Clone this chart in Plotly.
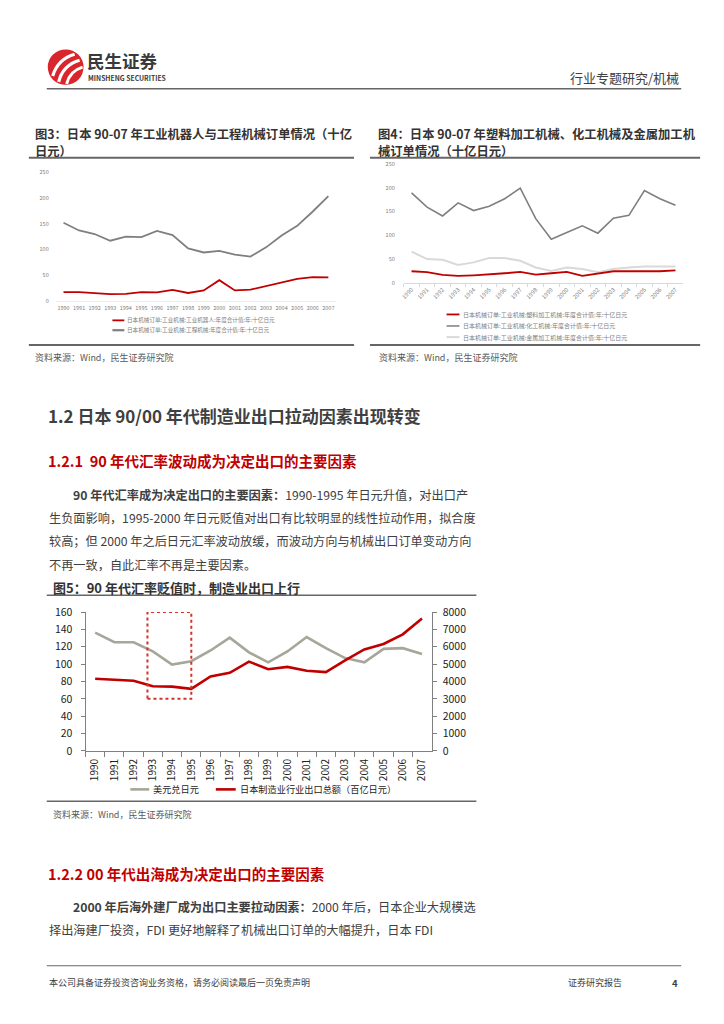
import plotly.graph_objects as go

W, H = 724, 1024
def px(x): return x / W
def py(y): return 1 - y / H

FONT = "Noto Sans CJK SC"
RED = "#c00000"
DARK = "#404040"

years = [str(y) for y in range(1990, 2008)]

# Figure 3: industrial robots / construction machinery orders (bn JPY)
robot_orders = [16.5, 16.5, 14.5, 12.7, 13.3, 16.5, 16, 21, 15, 20, 40, 20, 21.5, 28.5, 35, 42.5, 46, 45.5]
construction_orders = [152, 137, 130, 117, 125, 124, 136, 128, 102, 94, 97, 90, 86, 104, 127, 146, 174, 204]
fig3_ticks = [0, 50, 100, 150, 200, 250]
fig3_names = ["日本机械订单:工业机械:工业机器人:年度合计值:年:十亿日元",
              "日本机械订单:工业机械:工程机械:年度合计值:年:十亿日元"]

# Figure 4: plastic / chemical / metal processing machinery orders (bn JPY)
plastic_orders = [25, 23, 17.3, 15.2, 16.6, 18, 20.8, 23.5, 18, 20.8, 23.5, 15.2, 20.8, 25, 25, 25, 25, 27]
chemical_orders = [189, 159, 140.6, 168, 152, 161, 176.6, 198.8, 135, 92, 106, 120, 104.6, 136, 142, 194, 176.6, 163]
metal_orders = [66, 50.5, 49, 38, 43.6, 52.6, 52.6, 47, 33, 25.6, 33, 29.8, 23, 29.8, 33, 35, 35, 35]
fig4_ticks = [0, 50, 100, 150, 200, 250]
fig4_names = ["日本机械订单:工业机械:塑料加工机械:年度合计值:年:十亿日元",
              "日本机械订单:工业机械:化工机械:年度合计值:年:十亿日元",
              "日本机械订单:工业机械:金属加工机械:年度合计值:年:十亿日元"]

# Figure 5: USD/JPY and manufacturing exports (10bn JPY)
usd_jpy = [136.2, 125.2, 125.2, 114.6, 99.5, 103.3, 115.7, 130.5, 113.5, 102.1, 114.6, 131.2, 118.4, 107, 102.1, 117.6, 118.4, 111.6]
mfg_exports = [4160, 4120, 4047, 3725, 3706, 3574, 4293, 4500, 5144, 4709, 4841, 4614, 4538, 5219, 5843, 6164, 6713, 7621]
fig5_left_ticks = [0, 20, 40, 60, 80, 100, 120, 140, 160]
fig5_right_ticks = [0, 1000, 2000, 3000, 4000, 5000, 6000, 7000, 8000]
fig5_names = ["美元兑日元", "日本制造业行业出口总额（百亿日元）"]
highlight = {"x0": 2.72, "x1": 5.0, "y0": 60, "y1": 160}

fig = go.Figure()

# ---- traces
fig.add_trace(go.Scatter(x=years, y=robot_orders, name=fig3_names[0], mode="lines",
                         line=dict(color=RED, width=1.8), xaxis="x", yaxis="y"))
fig.add_trace(go.Scatter(x=years, y=construction_orders, name=fig3_names[1], mode="lines",
                         line=dict(color="#7f7f7f", width=1.8), xaxis="x", yaxis="y"))

fig.add_trace(go.Scatter(x=years, y=chemical_orders, name=fig4_names[1], mode="lines",
                         line=dict(color="#7f7f7f", width=1.6), xaxis="x2", yaxis="y2"))
fig.add_trace(go.Scatter(x=years, y=metal_orders, name=fig4_names[2], mode="lines",
                         line=dict(color="#d9d9d9", width=2), xaxis="x2", yaxis="y2"))
fig.add_trace(go.Scatter(x=years, y=plastic_orders, name=fig4_names[0], mode="lines",
                         line=dict(color=RED, width=1.8), xaxis="x2", yaxis="y2"))

fig.add_trace(go.Scatter(x=years, y=usd_jpy, name=fig5_names[0], mode="lines",
                         line=dict(color="#a6a69a", width=2.6), xaxis="x3", yaxis="y3"))
fig.add_trace(go.Scatter(x=years, y=mfg_exports, name=fig5_names[1], mode="lines",
                         line=dict(color=RED, width=2.6), xaxis="x3", yaxis="y4"))

small_tick = dict(family=FONT, size=5.5, color="#808080")
fig.update_layout(
    width=W, height=H, margin=dict(l=0, r=0, t=0, b=0), showlegend=False,
    paper_bgcolor="white", plot_bgcolor="white",
    font=dict(family=FONT, color=DARK),
    xaxis=dict(domain=[px(52), px(334)], anchor="y", type="category", range=[-0.5, 17.5],
               showgrid=False, showline=True, linecolor="#ededed", ticks="", tickfont=small_tick,
               tickangle=0, ticklabelstandoff=2),
    yaxis=dict(domain=[py(297), py(167)], anchor="x", range=[0, 250], tickvals=fig3_ticks,
               showgrid=False, zeroline=False, showline=False, ticks="", tickfont=small_tick,
               ticklabelstandoff=6),
    xaxis2=dict(domain=[px(402), px(683)], anchor="y2", type="category", range=[-0.5, 17.5],
                showgrid=False, showline=True, linecolor="#d9d9d9", ticks="outside", tickson="boundaries",
                ticklen=3, tickcolor="#d9d9d9", tickfont=dict(family=FONT, size=5.8, color="#808080"),
                tickangle=-45),
    yaxis2=dict(domain=[py(279.3), py(158)], anchor="x2", range=[0, 250], tickvals=fig4_ticks,
                showgrid=False, zeroline=False, showline=False, ticks="", tickfont=small_tick,
                ticklabelstandoff=8),
    xaxis3=dict(domain=[px(82), px(430)], anchor="y3", type="category", range=[-0.5, 17.5],
                showgrid=False, showline=True, linecolor="#808080", linewidth=1,
                ticks="outside", tickson="boundaries", ticklen=5, tickcolor="#808080",
                tickangle=-90, ticklabelstandoff=3, tickfont=dict(family=FONT, size=10, color="#222")),
    yaxis3=dict(domain=[py(754), py(613)], anchor="x3", range=[0, 160], tickvals=fig5_left_ticks,
                showgrid=False, zeroline=False, showline=True, linecolor="#808080",
                ticks="outside", ticklen=4, tickcolor="#808080", ticklabelstandoff=6,
                tickfont=dict(family=FONT, size=10.5, color="#222")),
    yaxis4=dict(overlaying="y3", anchor="x3", side="right", range=[0, 8000], tickvals=fig5_right_ticks,
                showgrid=False, zeroline=False, showline=True, linecolor="#808080",
                ticks="outside", ticklen=4, tickcolor="#808080", ticklabelstandoff=4,
                tickfont=dict(family=FONT, size=10.5, color="#222")),
)

shapes = []
def hline(y, x0, x1, color="#595959", width=1.5):
    shapes.append(dict(type="line", xref="paper", yref="paper", x0=px(x0), x1=px(x1),
                       y0=py(y), y1=py(y), line=dict(color=color, width=width)))

hline(82, 43, 681, "#666666", 1.5)
hline(152, 25, 352, "#666666", 2)
hline(152, 368, 700, "#666666", 2)
hline(342, 25, 352, "#666666", 2)
hline(342, 368, 700, "#666666", 2)
hline(596, 43, 475, "#666666", 1.5)
hline(805, 43, 475, "#666666", 1.5)
hline(972, 43, 681, "#666666", 1)

# logo
shapes.append(dict(type="circle", xref="paper", yref="paper", x0=px(44), x1=px(80), y0=py(78), y1=py(42),
                   fillcolor="#d9262c", line=dict(width=0)))
def pth(pts):
    s = "M %f,%f" % (px(pts[0][0]), py(pts[0][1]))
    s += " Q %f,%f %f,%f" % (px(pts[1][0]), py(pts[1][1]), px(pts[2][0]), py(pts[2][1]))
    return s
for p, w in [([(49, 69), (54, 52), (71, 47)], 3.2), ([(55, 75), (59, 58), (76, 53)], 3.2), ([(63, 77), (66, 64), (79, 60)], 3)]:
    shapes.append(dict(type="path", xref="paper", yref="paper", path=pth(p), line=dict(color="white", width=w)))

# legend samples
for (y, c, wdt) in [(317, RED, 1.8), (327, "#7f7f7f", 2.2)]:
    hline(y, 109, 121, c, wdt)
for (y, c, wdt) in [(311, RED, 1.8), (322.7, "#7f7f7f", 1.5), (334, "#d9d9d9", 2)]:
    hline(y, 445, 458, c, wdt)
hline(793, 127, 146, "#a6a69a", 2.6)
hline(793, 213, 233, RED, 2.6)

# highlight box in fig 5
shapes.append(dict(type="rect", xref="x3", yref="y3", x0=highlight["x0"], x1=highlight["x1"],
                   y0=highlight["y0"], y1=highlight["y1"], line=dict(color="#d2322a", width=2, dash="dot")))
fig.update_layout(shapes=shapes)

ann = []
def text(x, y, s, size, color=DARK, anchor="left", bold=False):
    if bold:
        s = "<b>" + s + "</b>"
    ann.append(dict(xref="paper", yref="paper", x=px(x), y=py(y), text=s, showarrow=False,
                    xanchor=anchor, yanchor="middle", font=dict(family=FONT, size=size, color=color)))

text(81, 53, "民生证券", 17.5, "#3a3a3a", bold=True)
text(82, 71, "MINSHENG SECURITIES", 6.8, "#3a3a3a", bold=True)
text(681, 71, "行业专题研究/机械", 13, "#404040", anchor="right")

text(29, 128, "图3：日本 90-07 年工业机器人与工程机械订单情况（十亿", 12.3, "#333333", bold=True)
text(29, 145, "日元）", 12.3, "#333333", bold=True)
text(374, 128, "图4：日本 90-07 年塑料加工机械、化工机械及金属加工机", 12.3, "#333333", bold=True)
text(374, 145, "械订单情况（十亿日元）", 12.3, "#333333", bold=True)

text(122, 317, fig3_names[0], 5.6, "#808080")
text(122, 327, fig3_names[1], 5.6, "#808080")
for y, n in zip([311, 322.7, 334], fig4_names):
    text(460, y, n, 6, "#808080")

text(148, 793, fig5_names[0], 9.2, "#222")
text(235, 793, fig5_names[1], 9.2, "#222")

text(29, 355, "资料来源：Wind，民生证券研究院", 9, "#595959")
text(375, 355, "资料来源：Wind，民生证券研究院", 9, "#595959")

text(42, 414, "1.2 日本 90/00 年代制造业出口拉动因素出现转变", 17, "#404040", bold=True)
text(42, 459, "1.2.1  90 年代汇率波动成为决定出口的主要因素", 14.5, RED, bold=True)

para1 = ["<b>90 年代汇率成为决定出口的主要因素：</b>1990-1995 年日元升值，对出口产",
         "生负面影响，1995-2000 年日元贬值对出口有比较明显的线性拉动作用，拟合度",
         "较高；但 2000 年之后日元汇率波动放缓，而波动方向与机械出口订单变动方向",
         "不再一致，自此汇率不再是主要因素。"]
for i, (y, s) in enumerate(zip([494, 518, 541, 565], para1)):
    text(67 if i == 0 else 43, y, s, 12.2, "#404040")

text(47, 588, "图5：90 年代汇率贬值时，制造业出口上行", 13, "#333333", bold=True)
text(47, 818, "资料来源：Wind，民生证券研究院", 9, "#595959")

text(42, 878, "1.2.2 00 年代出海成为决定出口的主要因素", 14.5, RED, bold=True)
para2 = ["<b>2000 年后海外建厂成为出口主要拉动因素：</b>2000 年后，日本企业大规模选",
         "择出海建厂投资，FDI 更好地解释了机械出口订单的大幅提升，日本 FDI"]
for i, (y, s) in enumerate(zip([912, 936], para2)):
    text(67 if i == 0 else 43, y, s, 12.2, "#404040")

text(43, 989, "本公司具备证券投资咨询业务资格，请务必阅读最后一页免责声明", 9, "#404040")
text(565, 989, "证券研究报告", 9, "#404040")
text(670, 989, "4", 9.5, "#404040", bold=True)

fig.update_layout(annotations=ann)
fig.write_html("out.html", config={"displayModeBar": False},
               post_script="document.body.style.margin='0';document.body.style.overflow='hidden';")
